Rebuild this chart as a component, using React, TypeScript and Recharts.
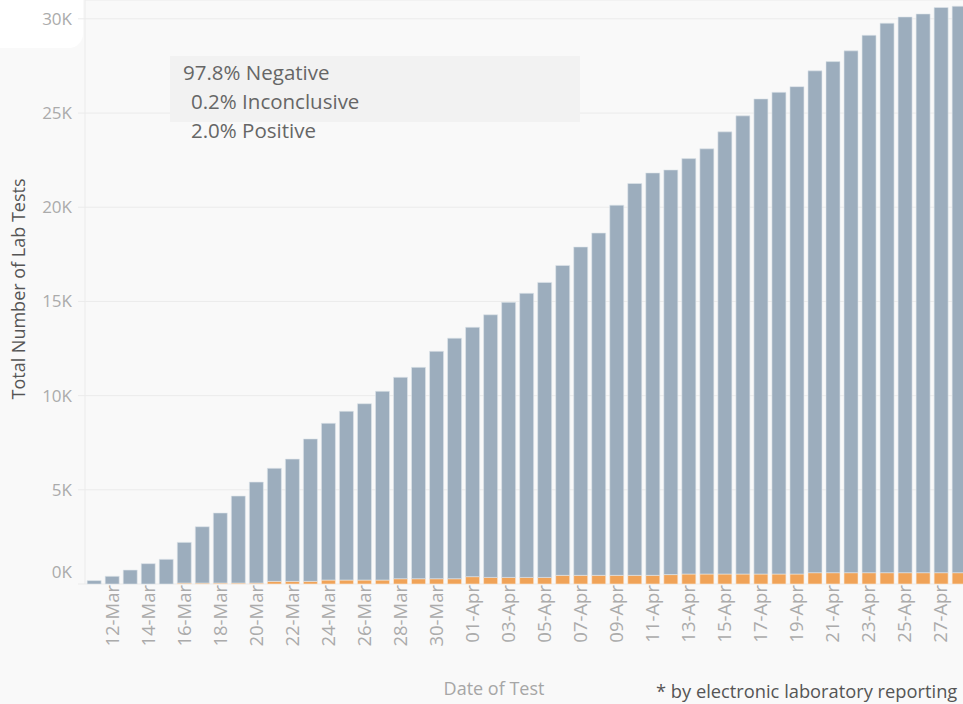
import { BarChart, Bar, XAxis, YAxis, CartesianGrid } from "recharts";

const dates = [
  "11-Mar", "12-Mar", "13-Mar", "14-Mar", "15-Mar", "16-Mar", "17-Mar", "18-Mar", "19-Mar", "20-Mar",
  "21-Mar", "22-Mar", "23-Mar", "24-Mar", "25-Mar", "26-Mar", "27-Mar", "28-Mar", "29-Mar", "30-Mar",
  "31-Mar", "01-Apr", "02-Apr", "03-Apr", "04-Apr", "05-Apr", "06-Apr", "07-Apr", "08-Apr", "09-Apr",
  "10-Apr", "11-Apr", "12-Apr", "13-Apr", "14-Apr", "15-Apr", "16-Apr", "17-Apr", "18-Apr", "19-Apr",
  "20-Apr", "21-Apr", "22-Apr", "23-Apr", "24-Apr", "25-Apr", "26-Apr", "27-Apr", "28-Apr",
];

const positive = [
  0, 0, 0, 0, 0, 50, 50, 50, 50, 50,
  140, 140, 140, 210, 210, 210, 210, 280, 280, 280,
  280, 390, 350, 350, 350, 350, 460, 460, 460, 460,
  460, 460, 500, 530, 530, 530, 530, 530, 530, 530,
  600, 600, 600, 600, 600, 600, 600, 600, 600,
];

const negative = [
  180, 410, 740, 1080, 1310, 2160, 2990, 3720, 4620, 5360,
  6000, 6490, 7560, 8320, 8960, 9360, 10020, 10690, 11220, 12070,
  12770, 13240, 13940, 14600, 15080, 15660, 16450, 17430, 18170, 19650,
  20800, 21360, 21480, 22050, 22570, 23470, 24320, 25220, 25570, 25870,
  26640, 27130, 27700, 28530, 29170, 29500, 29660, 30000, 30070,
];

const yTicks = [0, 5000, 10000, 15000, 20000, 25000, 30000];

const summary = ["97.8% Negative", "0.2% Inconclusive", "2.0% Positive"];

const data = dates.map((date, i) => ({
  date,
  positive: positive[i],
  negative: negative[i],
}));

const FONT = "'Open Sans', 'Noto Sans', sans-serif";

function YTick(props: any) {
  const { x, y, payload } = props;
  // tableau nudges the bottom label up so it isn't clipped
  const shift = payload.value === 0 ? -12 : 0;
  return (
    <text
      x={x}
      y={y + shift}
      dy="0.35em"
      textAnchor="end"
      fill="#ababab"
      fontSize={17}
      fontFamily={FONT}
    >
      {`${payload.value / 1000}K`}
    </text>
  );
}

function XTick(props: any) {
  const { x, y, payload, index } = props;
  if (index % 2 === 0) return null;
  return (
    <text
      transform={`translate(${x},${y - 7}) rotate(-90)`}
      dy="0.35em"
      textAnchor="end"
      fill="#ababab"
      fontSize={18.5}
      fontFamily={FONT}
    >
      {payload.value}
    </text>
  );
}

export default function App() {
  return (
    <div
      style={{
        position: "absolute",
        left: 0,
        top: 0,
        width: 963,
        height: 704,
        overflow: "hidden",
        background: "#f9f9f9",
        fontFamily: FONT,
      }}
    >
      <div
        style={{
          position: "absolute",
          left: 0,
          top: 0,
          width: 83,
          height: 48,
          background: "#ffffff",
          borderBottomRightRadius: 14,
        }}
      />
      <div style={{ position: "absolute", left: 0, top: 0 }}>
        <BarChart
          width={980}
          height={704}
          data={data}
          margin={{ top: 0, right: 12, left: 0, bottom: 0 }}
          barCategoryGap="12%"
        >
          <CartesianGrid vertical={false} stroke="#ebebeb" />
          <XAxis
            dataKey="date"
            interval={0}
            height={120}
            tick={<XTick />}
            tickLine={false}
            axisLine={false}
          />
          <YAxis
            width={85}
            domain={[0, 31000]}
            ticks={yTicks}
            tick={<YTick />}
            tickSize={7}
            tickMargin={6}
            tickLine={{ stroke: "#ebebeb" }}
            axisLine={{ stroke: "#ebebeb" }}
          />
          <Bar
            dataKey="positive"
            stackId="a"
            fill="#f0a358"
            stroke="#fbe9d6"
            strokeWidth={0.6}
            isAnimationActive={false}
          />
          <Bar
            dataKey="negative"
            stackId="a"
            fill="#9cadbd"
            stroke="#dfe5eb"
            strokeWidth={0.6}
            isAnimationActive={false}
          />
        </BarChart>
      </div>
      <div
        style={{
          position: "absolute",
          left: 170,
          top: 56,
          width: 410,
          height: 66,
          background: "#f2f2f2",
        }}
      />
      {summary.map((line, i) => (
        <div
          key={line}
          style={{
            position: "absolute",
            left: i === 0 ? 183 : 191,
            top: 59 + i * 29,
            fontSize: 20.5,
            lineHeight: "26px",
            color: "#666666",
            whiteSpace: "nowrap",
          }}
        >
          {line}
        </div>
      ))}
      <div
        style={{
          position: "absolute",
          left: 18,
          top: 289,
          transform: "translate(-50%, -50%) rotate(-90deg)",
          fontSize: 18,
          color: "#555555",
          whiteSpace: "nowrap",
        }}
      >
        Total Number of Lab Tests
      </div>
      <div
        style={{
          position: "absolute",
          left: 494,
          top: 688,
          transform: "translate(-50%, -50%)",
          fontSize: 18,
          color: "#a6a6a6",
          whiteSpace: "nowrap",
        }}
      >
        Date of Test
      </div>
      <div
        style={{
          position: "absolute",
          left: 656,
          top: 679,
          fontSize: 18.3,
          lineHeight: "24px",
          color: "#555555",
          whiteSpace: "nowrap",
        }}
      >
        * by electronic laboratory reporting
      </div>
    </div>
  );
}
